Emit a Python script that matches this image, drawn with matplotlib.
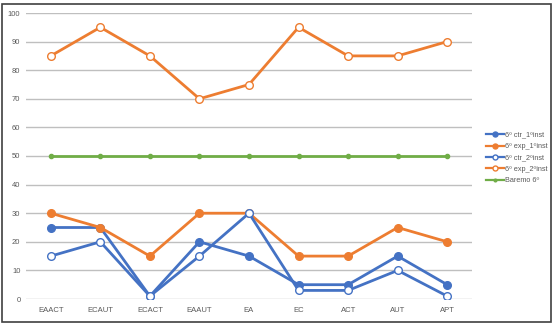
import matplotlib
matplotlib.use("Agg")
import matplotlib.pyplot as plt
from matplotlib.patches import Rectangle

categories = ["EAACT", "ECAUT", "ECACT", "EAAUT", "EA", "EC", "ACT", "AUT", "APT"]
ctr_1 = [25, 25, 1, 20, 15, 5, 5, 15, 5]
exp_1 = [30, 25, 15, 30, 30, 15, 15, 25, 20]
ctr_2 = [15, 20, 1, 15, 30, 3, 3, 10, 1]
exp_2 = [85, 95, 85, 70, 75, 95, 85, 85, 90]
baremo = [50, 50, 50, 50, 50, 50, 50, 50, 50]
labels = ["6º ctr_1ºinst", "6º exp_1ºinst", "6º ctr_2ºinst", "6º exp_2ºinst", "Baremo 6º"]
yticks = [0, 10, 20, 30, 40, 50, 60, 70, 80, 90, 100]

blue = "#4472C4"
orange = "#ED7D31"
green = "#70AD47"

plt.rcParams['font.family'] = ['Liberation Sans', 'DejaVu Sans']

fig = plt.figure(figsize=(5.54, 3.25), dpi=100)
ax = fig.add_axes([26/554, 1 - 299/325, (472-26)/554, (299-13)/325])

x = list(range(len(categories)))
lw = 2.0
ms = 5.5
ax.plot(x, ctr_1, color=blue, lw=lw, marker='o', ms=ms, mfc=blue, mec=blue, label=labels[0], zorder=3)
ax.plot(x, exp_1, color=orange, lw=lw, marker='o', ms=ms, mfc=orange, mec=orange, label=labels[1], zorder=3)
ax.plot(x, ctr_2, color=blue, lw=lw, marker='o', ms=ms, mfc='white', mec=blue, mew=1.0, label=labels[2], zorder=4)
ax.plot(x, exp_2, color=orange, lw=lw, marker='o', ms=ms, mfc='white', mec=orange, mew=1.0, label=labels[3], zorder=3)
ax.plot(x, baremo, color=green, lw=lw, marker='o', ms=3.0, mfc=green, mec=green, label=labels[4], zorder=3)

ax.set_xlim(-0.5, len(categories) - 0.5)
ax.set_ylim(0, 100)
ax.set_yticks(yticks)
ax.set_xticks(x)
ax.set_xticklabels(categories)
ax.tick_params(axis='both', length=0, labelsize=5.5, colors='#595959', pad=4)
ax.tick_params(axis='x', pad=6)
ax.yaxis.grid(True, color='#BFBFBF', lw=1.0)
ax.set_axisbelow(True)
for s in ax.spines.values():
    s.set_visible(False)

leg = ax.legend(loc='upper left', bbox_to_anchor=(482/554, 1 - 128/325), bbox_transform=fig.transFigure,
                frameon=False, fontsize=5.2, handlelength=2.6, handletextpad=0.15,
                labelspacing=0.6, borderpad=0, markerscale=0.65, labelcolor='#595959')
for h in leg.get_lines():
    h.set_linewidth(1.6)

fig.patches.append(Rectangle((2/554, 3/325), 549/554, 318/325, transform=fig.transFigure,
                             fill=False, edgecolor='#404040', lw=1.2))

fig.savefig("out.png", dpi=100)
